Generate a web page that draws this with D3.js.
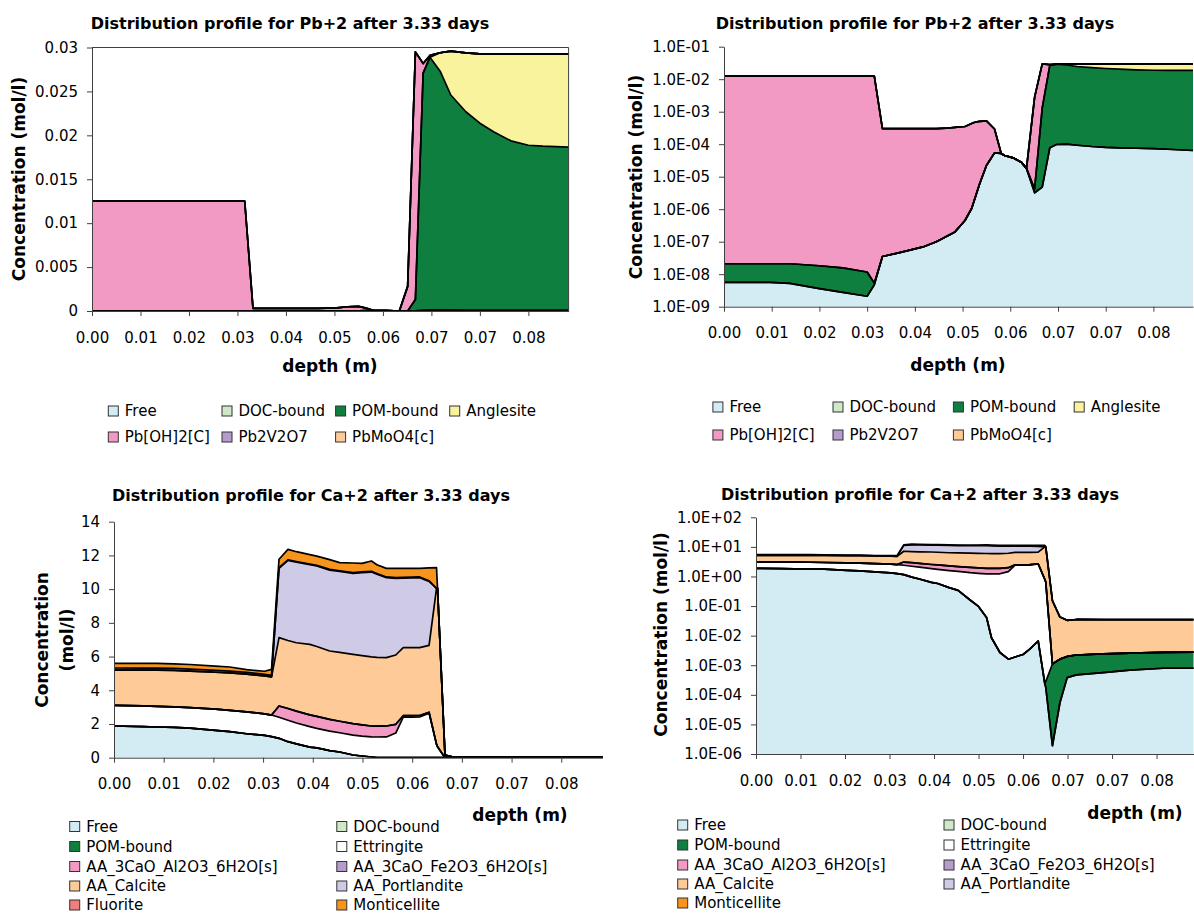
<!DOCTYPE html>
<html>
<head>
<meta charset="utf-8">
<script src="https://cdn.jsdelivr.net/npm/d3@7"></script>
<style>
  body { margin: 0; background: #fff; }
  text { font-family: "DejaVu Sans", sans-serif; }
</style>
</head>
<body>
<svg id="chart" width="1194" height="917"></svg>
<script>
// depth grids (m)
const depthPb = [0, 0.00896, 0.01288, 0.01866, 0.02323, 0.02799, 0.02939, 0.03098, 0.03433, 0.03891,
  0.04152, 0.04348, 0.04516, 0.04712, 0.04842, 0.04917, 0.05001, 0.05132, 0.05290, 0.05421,
  0.05486, 0.05654, 0.05813, 0.05915, 0.06074, 0.06223, 0.06372, 0.06503, 0.06699, 0.06904,
  0.07193, 0.07464, 0.07735, 0.08061, 0.08397, 0.08677, 0.09171];
const depthCa = [0, 0.00550, 0.00802, 0.01129, 0.01427, 0.01903, 0.02174, 0.02491, 0.02827, 0.02958,
  0.03098, 0.03266, 0.03424, 0.03676, 0.03807, 0.04049, 0.04236, 0.04488, 0.04656, 0.04833,
  0.04936, 0.05113, 0.05290, 0.05430, 0.05598, 0.05738, 0.05915, 0.06055, 0.06074, 0.06214,
  0.06372, 0.06522, 0.06718, 0.07277, 0.07837, 0.08537, 0.09171];

const xTicks = [0, 0.00933, 0.01866, 0.02799, 0.03732, 0.04665, 0.05598, 0.06531, 0.07464, 0.08397];
const xMax = 0.09171;

// Pb+2 species (mol/l)
const pbFree = [5.6e-9, 5.6e-9, 5.2e-9, 3.6e-9, 2.75e-9, 2.1e-9, 4.7e-9, 3.5e-8, 4.6e-8, 6.9e-8,
  1.0e-7, 1.45e-7, 2.0e-7, 4.5e-7, 1.05e-6, 2.4e-6, 6.2e-6, 2.2e-5, 5.4e-5, 5.2e-5,
  4.5e-5, 3.8e-5, 2.8e-5, 1.8e-5, 3.2e-6, 4.8e-6, 7.8e-5, 9.8e-5, 1.0e-4, 9.3e-5,
  8.5e-5, 8.0e-5, 7.7e-5, 7.5e-5, 7.3e-5, 7.0e-5, 6.4e-5];
const pbDoc = [0, 0, 0, 0, 0, 0, 0, 0, 0, 0, 0, 0, 0, 0, 0, 0, 0, 0, 0, 0,
  0, 0, 0, 0, 0, 0, 0, 0, 0, 0, 0, 0, 0, 0, 0, 0, 0];
const pbPom = [1.54e-8, 1.54e-8, 1.58e-8, 1.46e-8, 1.3e-8, 9.6e-9, 6e-10, 0, 0, 0,
  0, 0, 0, 0, 0, 0, 0, 0, 0, 0,
  0, 0, 0, 0, 1e-6, 1.3e-3, 0.0270, 0.0288, 0.0272, 0.0245,
  0.0226, 0.0213, 0.0203, 0.0193, 0.0188, 0.0187, 0.0186];
const pbAnglesite = [0, 0, 0, 0, 0, 0, 0, 0, 0, 0, 0, 0, 0, 0, 0, 0, 0, 0, 0, 0,
  0, 0, 0, 0, 0, 0, 0, 0, 0.0021, 0.0050,
  0.0067, 0.0079, 0.0089, 0.0099, 0.0104, 0.0105, 0.0106];
const pbOH2 = [0.0125, 0.0125, 0.0125, 0.0125, 0.0125, 0.0125, 0.0125, 3.0e-4, 3.0e-4, 3.0e-4,
  3.0e-4, 3.1e-4, 3.3e-4, 3.5e-4, 4.3e-4, 4.8e-4, 5.0e-4, 5.0e-4, 2.4e-4, 0,
  0, 0, 0, 0, 2.8e-3, 0.0282, 0.0011, 0.0002, 0, 0,
  0, 0, 0, 0, 0, 0, 0];
const pbV2O7 = [0, 0, 0, 0, 0, 0, 0, 0, 0, 0, 0, 0, 0, 0, 0, 0, 0, 0, 0, 0,
  0, 0, 0, 0, 0, 0, 0, 0, 0, 0, 0, 0, 0, 0, 0, 0, 0];
const pbMoO4 = [0, 0, 0, 0, 0, 0, 0, 0, 0, 0, 0, 0, 0, 0, 0, 0, 0, 0, 0, 0,
  0, 0, 0, 0, 0, 0, 0, 0, 0, 0, 0, 0, 0, 0, 0, 0, 0];

// Ca+2 species (mol/l)
const caFree = [1.88, 1.84, 1.82, 1.80, 1.76, 1.62, 1.55, 1.42, 1.32, 1.25,
  1.15, 0.95, 0.82, 0.63, 0.58, 0.42, 0.34, 0.16, 0.10, 0.041,
  0.0085, 0.0027, 0.0016, 0.0019, 0.0023, 0.0035, 0.0066, 2.3e-4, 1.8e-4, 1.9e-6,
  5.5e-5, 3.8e-4, 4.7e-4, 5.6e-4, 6.8e-4, 7.9e-4, 7.9e-4];
const caDoc = [0, 0, 0, 0, 0, 0, 0, 0, 0, 0, 0, 0, 0, 0, 0, 0, 0, 0, 0, 0,
  0, 0, 0, 0, 0, 0, 0, 0, 0, 0, 0, 0, 0, 0, 0, 0, 0];
const caPom = [0, 0, 0, 0, 0, 0, 0, 0, 0, 0, 0, 0, 0, 0, 0, 0, 0, 0, 0, 0,
  0, 0, 0, 0, 0, 0, 0, 2e-5, 1e-4, 1.1e-3,
  1.55e-3, 1.6e-3, 1.75e-3, 1.85e-3, 1.9e-3, 1.95e-3, 2.0e-3];
const caEttringite = [1.22, 1.23, 1.23, 1.22, 1.21, 1.26, 1.26, 1.30, 1.28, 1.28,
  1.25, 1.27, 1.24, 1.21, 1.16, 1.16, 1.14, 1.18, 1.18, 1.19,
  1.22, 1.23, 1.46, 2.41, 2.41, 2.42, 2.64, 0.79, 0.65, 0,
  0, 0, 0, 0, 0, 0, 0];
const caAl = [0, 0, 0, 0, 0, 0, 0, 0, 0, 0,
  0.67, 0.70, 0.70, 0.70, 0.71, 0.69, 0.68, 0.68, 0.67, 0.65,
  0.65, 0.65, 0.52, 0.08, 0.08, 0.08, 0.05, 0, 0, 0,
  0, 0, 0, 0, 0, 0, 0];
const caFe = [0, 0, 0, 0, 0, 0, 0, 0, 0, 0, 0, 0, 0, 0, 0, 0, 0, 0, 0, 0,
  0, 0, 0, 0, 0, 0, 0, 0, 0, 0, 0, 0, 0, 0, 0, 0, 0];
const caCalcite = [2.10, 2.12, 2.14, 2.16, 2.17, 2.19, 2.22, 2.24, 2.25, 2.27,
  4.05, 4.03, 4.06, 4.18, 4.15, 4.06, 4.09, 4.11, 4.11, 4.10,
  4.07, 4.05, 4.11, 4.04, 4.04, 4.03, 3.97, 9.26, 9.40, 0.15,
  0.041, 0.031, 0.033, 0.0326, 0.0324, 0.0323, 0.0322];
const caPortlandite = [0, 0, 0, 0, 0, 0, 0, 0, 0, 0,
  4.11, 4.75, 4.78, 4.73, 4.77, 4.80, 4.80, 4.81, 4.92, 5.03,
  4.93, 4.75, 4.55, 4.12, 4.14, 4.15, 3.79, 0, 0, 0,
  0, 0, 0, 0, 0, 0, 0];
const caFluorite = [0.12, 0.12, 0.12, 0.12, 0.11, 0.11, 0.11, 0.10, 0.09, 0.08,
  0.04, 0.04, 0.04, 0.04, 0.04, 0.04, 0.04, 0.04, 0.04, 0.04,
  0.04, 0.04, 0.04, 0.04, 0.04, 0.04, 0.04, 0, 0, 0,
  0, 0, 0, 0, 0, 0, 0];
const caMonticellite = [0.28, 0.28, 0.28, 0.27, 0.28, 0.25, 0.24, 0.16, 0.19, 0.36,
  0.50, 0.62, 0.58, 0.56, 0.55, 0.58, 0.48, 0.57, 0.51, 0.62,
  0.53, 0.51, 0.55, 0.54, 0.52, 0.51, 0.76, 1.22, 0, 0,
  0, 0, 0, 0, 0, 0, 0];

const pbNames = ["Free", "DOC-bound", "POM-bound", "Anglesite", "Pb[OH]2[C]", "Pb2V2O7", "PbMoO4[c]"];
const pbValues = [pbFree, pbDoc, pbPom, pbAnglesite, pbOH2, pbV2O7, pbMoO4];
const pbColors = ["#d3ecf3", "#cfe8c8", "#0f7f3f", "#f8f39c", "#f29ac3", "#b49ccc", "#fdca98"];

const caNames = ["Free", "DOC-bound", "POM-bound", "Ettringite", "AA_3CaO_Al2O3_6H2O[s]",
  "AA_3CaO_Fe2O3_6H2O[s]", "AA_Calcite", "AA_Portlandite", "Fluorite", "Monticellite"];
const caValues = [caFree, caDoc, caPom, caEttringite, caAl, caFe, caCalcite, caPortlandite, caFluorite, caMonticellite];
const caColors = ["#d3ecf3", "#cfe8c8", "#0f7f3f", "#ffffff", "#f29ac3", "#b49ccc", "#fdca98", "#cfcbe6", "#ee7f7f", "#f7941d"];

const pbLinTicks = [0, 0.005, 0.01, 0.015, 0.02, 0.025, 0.03];
const pbLinLabels = ["0", "0.005", "0.01", "0.015", "0.02", "0.025", "0.03"];
const pbLogTicks = [1e-9, 1e-8, 1e-7, 1e-6, 1e-5, 1e-4, 1e-3, 1e-2, 1e-1];
const caLinTicks = [0, 2, 4, 6, 8, 10, 12, 14];
const caLogTicks = [1e-6, 1e-5, 1e-4, 1e-3, 1e-2, 1e-1, 1, 10, 100];

const sciFmt = d => {
  const e = Math.round(Math.log10(d));
  return "1.0E" + (e < 0 ? "-" : "+") + String(Math.abs(e)).padStart(2, "0");
};

const svg = d3.select("#chart");
const axisColor = "#404040";

const panels = [
  {
    title: "Distribution profile for Pb+2 after 3.33 days", tx: 290, ty: 23,
    left: 92, right: 568.6, top: 47.5, bottom: 311, log: false, domain: [0, 0.03],
    yTicks: pbLinTicks, yFmt: (d, i) => pbLinLabels[i],
    depth: depthPb, names: pbNames, values: pbValues, colors: pbColors,
    yTitle: ["Concentration (mol/l)"], ytx: [19], yty: 179, xtx: 330, xty: 366,
    legCols: [108.3, 222, 335.6, 449.7], legRows: [411, 437], frame: true
  },
  {
    title: "Distribution profile for Pb+2 after 3.33 days", tx: 915, ty: 23,
    left: 724, right: 1193, top: 46.7, bottom: 306.7, log: true, domain: [1e-9, 1e-1],
    yTicks: pbLogTicks, yFmt: sciFmt,
    depth: depthPb, names: pbNames, values: pbValues, colors: pbColors,
    yTitle: ["Concentration (mol/l)"], ytx: [636], yty: 177, xtx: 958, xty: 365,
    legCols: [712.9, 833, 953.4, 1074.2], legRows: [407, 435], frame: false
  },
  {
    title: "Distribution profile for Ca+2 after 3.33 days", tx: 311, ty: 495,
    left: 114, right: 602.5, top: 521.7, bottom: 757.7, log: false, domain: [0, 14],
    yTicks: caLinTicks, yFmt: d3.format("d"),
    depth: depthCa, names: caNames, values: caValues, colors: caColors,
    yTitle: ["Concentration", "(mol/l)"], ytx: [42, 67], yty: 640, xtx: 520, xty: 815,
    legCols: [69.7, 336.8], legRows: [826.5, 846.5, 866.5, 886, 905], frame: false
  },
  {
    title: "Distribution profile for Ca+2 after 3.33 days", tx: 920, ty: 494,
    left: 756, right: 1193.5, top: 517.3, bottom: 754, log: true, domain: [1e-6, 100],
    yTicks: caLogTicks, yFmt: sciFmt,
    depth: depthCa,
    names: caNames.filter(n => n !== "Fluorite"),
    values: caValues.filter((v, i) => caNames[i] !== "Fluorite"),
    colors: caColors.filter((c, i) => caNames[i] !== "Fluorite"),
    yTitle: ["Concentration (mol/l)"], ytx: [661], yty: 634.5, xtx: 1135, xty: 813,
    legCols: [677.7, 944], legRows: [825, 845, 865, 884, 903], frame: false
  }
];

panels.forEach((p, pi) => {
  const g = svg.append("g");
  const x = d3.scaleLinear().domain([0, xMax]).range([p.left, p.right]);
  const y = p.log
    ? d3.scaleLog().domain(p.domain).range([p.bottom, p.top])
    : d3.scaleLinear().domain(p.domain).range([p.bottom, p.top]);
  const yMin = p.domain[0];

  const rows = p.depth.map((d, i) => {
    const r = { depth: d };
    p.names.forEach((n, k) => { r[n] = p.values[k][i]; });
    return r;
  });
  const stacked = d3.stack().keys(p.names)(rows);
  const yv = v => y(Math.max(v, yMin));

  const clipId = "clip" + pi;
  g.append("clipPath").attr("id", clipId).append("rect")
    .attr("x", p.left).attr("y", p.top - 2)
    .attr("width", p.right - p.left + 1).attr("height", p.bottom - p.top + 2);

  const area = d3.area()
    .x(d => x(d.data.depth))
    .y0(d => yv(d[0]))
    .y1(d => yv(d[1]));
  const line = d3.line()
    .x(d => x(d.data.depth))
    .y(d => yv(d[1]));

  const plot = g.append("g").attr("clip-path", `url(#${clipId})`);
  plot.selectAll("path.area").data(stacked).join("path")
    .attr("class", "area")
    .attr("d", area)
    .attr("fill", (d, i) => p.colors[i]);
  plot.selectAll("path.edge").data(stacked).join("path")
    .attr("class", "edge")
    .attr("d", line)
    .attr("fill", "none")
    .attr("stroke", "#000")
    .attr("stroke-width", 1.7)
    .attr("stroke-linejoin", "round");

  if (p.frame) {
    g.append("path")
      .attr("d", `M${p.left},${p.top}H${p.right}V${p.bottom}`)
      .attr("fill", "none").attr("stroke", axisColor).attr("stroke-width", 1);
  }

  const gx = g.append("g").attr("transform", `translate(0,${p.bottom})`)
    .call(d3.axisBottom(x).tickValues(xTicks).tickFormat(d3.format(".2f"))
      .tickSize(5).tickPadding(16).tickSizeOuter(0));
  const gy = g.append("g").attr("transform", `translate(${p.left},0)`)
    .call(d3.axisLeft(y).tickValues(p.yTicks).tickFormat(p.yFmt)
      .tickSize(5).tickPadding(9).tickSizeOuter(0));
  [gx, gy].forEach(a => {
    a.selectAll("path, line").attr("stroke", axisColor);
    a.selectAll("text").attr("fill", "#000").style("font-size", "15px")
      .style("font-family", "'DejaVu Sans', sans-serif");
  });

  // titles
  g.append("text").attr("x", p.tx).attr("y", p.ty)
    .attr("text-anchor", "middle").attr("dominant-baseline", "central")
    .style("font-size", "16px").style("font-weight", "bold").text(p.title);
  g.append("text").attr("x", p.xtx).attr("y", p.xty)
    .attr("text-anchor", "middle").attr("dominant-baseline", "central")
    .style("font-size", "17px").style("font-weight", "bold").text("depth (m)");
  p.yTitle.forEach((t, k) => {
    g.append("text")
      .attr("transform", `translate(${p.ytx[k]},${p.yty}) rotate(-90)`)
      .attr("text-anchor", "middle").attr("dominant-baseline", "central")
      .style("font-size", "17px").style("font-weight", "bold").text(t);
  });

  // legend
  const nc = p.legCols.length;
  const leg = g.selectAll("g.leg").data(p.names).join("g")
    .attr("class", "leg")
    .attr("transform", (d, i) => `translate(${p.legCols[i % nc]},${p.legRows[Math.floor(i / nc)]})`);
  leg.append("rect").attr("x", 0).attr("y", -5).attr("width", 10).attr("height", 10)
    .attr("fill", (d, i) => p.colors[i]).attr("stroke", "#333").attr("stroke-width", 1);
  leg.append("text").attr("x", 16.5).attr("y", 0).attr("dominant-baseline", "central")
    .style("font-size", "15px").text(d => d);
});
</script>
</body>
</html>
